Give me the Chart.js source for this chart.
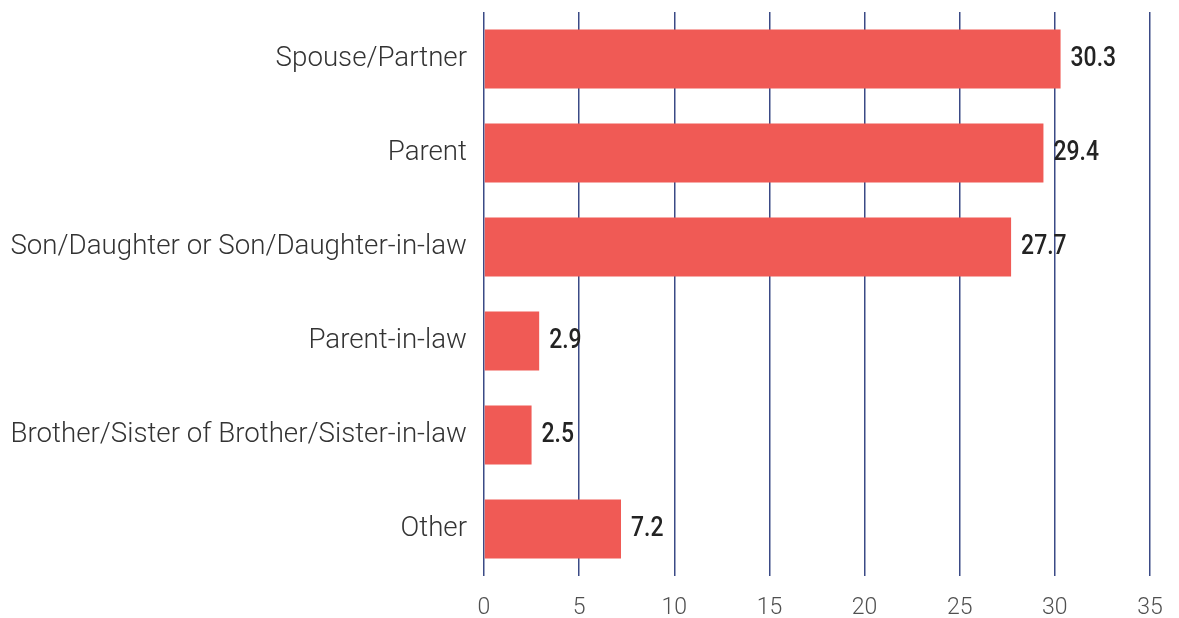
<!DOCTYPE html>
<html>
<head>
<meta charset="utf-8">
<script src="https://cdn.jsdelivr.net/npm/chart.js@4.4.1/dist/chart.umd.min.js"></script>
<style>
    html, body { margin: 0; padding: 0; background: #fff; }
    #wrap { width: 1179px; height: 618px; }
</style>
</head>
<body>
<div id="wrap"><canvas id="chart"></canvas></div>
<script>
const categories = [
    `Spouse/Partner`,
    `Parent`,
    `Son/Daughter or Son/Daughter-in-law`,
    `Parent-in-law`,
    `Brother/Sister of Brother/Sister-in-law`,
    `Other`
];
const values = [30.3, 29.4, 27.7, 2.9, 2.5, 7.2];
const xTicks = [0, 5, 10, 15, 20, 25, 30, 35];

// value labels at the end of each bar, slightly condensed
const valueLabels = {
    id: `valueLabels`,
    afterDatasetsDraw(chart) {
        const ctx = chart.ctx;
        const meta = chart.getDatasetMeta(0);
        ctx.save();
        ctx.fillStyle = `#232323`;
        ctx.font = `500 27px Roboto`;
        ctx.textBaseline = `middle`;
        meta.data.forEach((bar, i) => {
            ctx.save();
            ctx.translate(bar.x + 10, bar.y);
            ctx.scale(0.85, 1);
            ctx.fillText(values[i].toFixed(1), 0, 0);
            ctx.restore();
        });
        ctx.restore();
    }
};

const ctx = document.querySelector(`#chart`).getContext(`2d`);
const myChart = new Chart(ctx, {
    type: `bar`,
    data: {
        labels: categories,
        datasets: [
            {
                data: values,
                backgroundColor: `#F05A55`,
                borderWidth: 0,
                barPercentage: 0.63,
                categoryPercentage: 1
            }
        ]
    },
    options: {
        indexAxis: `y`,
        responsive: true,
        maintainAspectRatio: false,
        animation: false,
        layout: {
            autoPadding: false,
            padding: { top: 12, right: 29, left: 0, bottom: 0 }
        },
        plugins: {
            legend: { display: false },
            tooltip: { enabled: false }
        },
        scales: {
            x: {
                min: 0,
                max: 35,
                afterBuildTicks: axis => {
                    axis.ticks = xTicks.map(v => ({ value: v }));
                },
                afterFit: axis => {
                    axis.height = 42;
                    axis.paddingLeft = 0;
                    axis.paddingRight = 0;
                },
                border: { display: false },
                grid: {
                    color: `#3B4A86`,
                    lineWidth: 1.5,
                    drawTicks: false
                },
                ticks: {
                    color: `#505050`,
                    padding: 18,
                    font: { family: `Roboto`, size: 23, weight: 300 }
                }
            },
            y: {
                afterFit: axis => {
                    axis.width = 484;
                    axis.paddingTop = 0;
                    axis.paddingBottom = 0;
                },
                border: { display: false },
                grid: { display: false, drawTicks: false },
                ticks: {
                    color: `#333333`,
                    padding: 17,
                    font: { family: `Roboto`, size: 27.7, weight: 300 }
                }
            }
        }
    },
    plugins: [valueLabels]
});
</script>
</body>
</html>
